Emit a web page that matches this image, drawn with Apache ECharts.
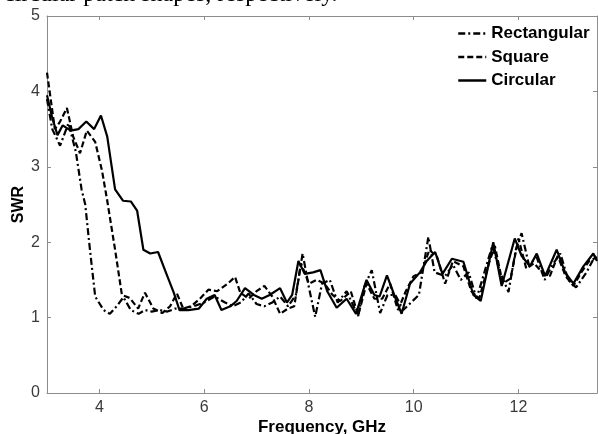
<!DOCTYPE html>
<html>
<head>
<meta charset="utf-8">
<style>
html,body{margin:0;padding:0;background:#fff;}
#chart{width:598px;height:434px;}
</style>
<script src="https://cdn.jsdelivr.net/npm/echarts@6/dist/echarts.min.js"></script>
</head>
<body>
<div id="chart"></div>
<script>
// Tick labels
var xTicks = [4, 6, 8, 10, 12];
var yTicks = [0, 1, 2, 3, 4, 5];

// Series names
var seriesNames = ['Rectangular', 'Square', 'Circular'];

// Rectangular patch: [frequency GHz, SWR]
var rectangular = [[3.0,3.9],[3.1,3.5],[3.25,3.28],[3.41,3.58],[3.55,3.2],[3.66,2.7],[3.73,2.5],[3.82,1.9],[3.92,1.28],[4.08,1.1],[4.2,1.05],[4.33,1.15],[4.46,1.27],[4.6,1.1],[4.75,1.05],[4.87,1.1],[5.0,1.08],[5.15,1.1],[5.3,1.08],[5.45,1.12],[5.6,1.12],[5.8,1.15],[6.0,1.2],[6.2,1.28],[6.4,1.2],[6.55,1.15],[6.7,1.2],[6.85,1.32],[7.0,1.18],[7.15,1.15],[7.3,1.2],[7.45,1.28],[7.6,1.15],[7.75,1.3],[7.88,1.85],[8.0,1.4],[8.12,1.01],[8.25,1.45],[8.4,1.5],[8.55,1.2],[8.72,1.35],[8.94,1.02],[9.05,1.4],[9.2,1.63],[9.36,1.06],[9.5,1.3],[9.65,1.3],[9.8,1.1],[9.95,1.2],[10.1,1.3],[10.28,2.07],[10.4,1.6],[10.6,1.55],[10.75,1.7],[10.9,1.5],[11.05,1.6],[11.2,1.25],[11.35,1.6],[11.5,1.95],[11.65,1.6],[11.81,1.34],[11.95,1.9],[12.06,2.12],[12.2,1.7],[12.35,1.8],[12.5,1.5],[12.65,1.7],[12.8,1.85],[12.95,1.5],[13.1,1.4],[13.3,1.6],[13.45,1.8],[13.5,1.85]];

// Square patch
var square = [[3.0,4.25],[3.15,3.5],[3.25,3.6],[3.38,3.78],[3.5,3.4],[3.63,3.18],[3.76,3.48],[3.92,3.33],[4.05,2.95],[4.15,2.55],[4.3,1.9],[4.43,1.3],[4.58,1.26],[4.74,1.12],[4.87,1.33],[5.03,1.12],[5.2,1.06],[5.35,1.15],[5.48,1.32],[5.6,1.12],[5.75,1.15],[5.92,1.25],[6.08,1.37],[6.25,1.35],[6.45,1.45],[6.59,1.54],[6.69,1.33],[6.85,1.25],[7.0,1.35],[7.15,1.42],[7.3,1.28],[7.45,1.05],[7.6,1.12],[7.72,1.15],[7.85,1.72],[8.0,1.45],[8.15,1.5],[8.3,1.45],[8.45,1.3],[8.6,1.22],[8.8,1.35],[8.94,1.03],[9.1,1.45],[9.25,1.25],[9.4,1.25],[9.55,1.45],[9.7,1.1],[9.85,1.35],[10.0,1.55],[10.15,1.6],[10.3,1.9],[10.45,1.8],[10.6,1.45],[10.75,1.75],[10.95,1.68],[11.1,1.35],[11.25,1.25],[11.45,1.75],[11.55,1.95],[11.7,1.45],[11.85,1.52],[12.0,2.05],[12.15,1.65],[12.3,1.72],[12.45,1.6],[12.6,1.55],[12.75,1.82],[12.9,1.55],[13.05,1.42],[13.2,1.6],[13.35,1.75],[13.5,1.8]];

// Circular patch
var circular = [[3.0,3.95],[3.1,3.65],[3.2,3.42],[3.3,3.55],[3.45,3.48],[3.6,3.5],[3.75,3.6],[3.9,3.5],[4.03,3.68],[4.15,3.4],[4.3,2.7],[4.45,2.55],[4.6,2.54],[4.72,2.42],[4.84,1.9],[4.97,1.85],[5.12,1.87],[5.28,1.58],[5.42,1.33],[5.53,1.1],[5.7,1.1],[5.9,1.12],[6.05,1.25],[6.2,1.3],[6.33,1.1],[6.5,1.15],[6.62,1.22],[6.78,1.39],[6.95,1.3],[7.1,1.25],[7.25,1.3],[7.45,1.39],[7.58,1.2],[7.68,1.3],[7.8,1.75],[7.92,1.58],[8.08,1.6],[8.22,1.63],[8.35,1.35],[8.53,1.13],[8.72,1.25],[8.9,1.05],[9.1,1.5],[9.25,1.3],[9.35,1.28],[9.49,1.56],[9.64,1.28],[9.77,1.05],[9.93,1.45],[10.12,1.6],[10.25,1.75],[10.41,1.87],[10.55,1.58],[10.73,1.78],[10.95,1.74],[11.14,1.3],[11.28,1.22],[11.52,2.0],[11.68,1.42],[11.93,2.05],[12.06,1.82],[12.22,1.68],[12.35,1.85],[12.51,1.55],[12.73,1.9],[12.89,1.6],[13.05,1.45],[13.24,1.68],[13.43,1.85],[13.5,1.75]];

var chart = echarts.init(document.getElementById('chart'), null, {renderer: 'canvas'});
var sans = '"Liberation Sans", Arial, sans-serif';
var axisGray = '#8c8c8c';

function baseX(pos, showLabel) {
  return {
    type: 'value', position: pos, min: 3, max: 13.5, interval: 2,
    axisLine: {show: true, onZero: false, lineStyle: {color: axisGray, width: 1}},
    axisTick: {show: true, inside: true, length: 4, lineStyle: {color: axisGray},
      customValues: xTicks},
    axisLabel: {show: showLabel, color: '#3a3a3a', fontSize: 16, fontFamily: sans, margin: 7,
      customValues: xTicks},
    splitLine: {show: false}
  };
}
function baseY(pos, showLabel) {
  return {
    type: 'value', position: pos, min: 0, max: 5, interval: 1,
    axisLine: {show: true, onZero: false, lineStyle: {color: axisGray, width: 1}},
    axisTick: {show: true, inside: true, length: 4, lineStyle: {color: axisGray}},
    axisLabel: {show: showLabel, color: '#3a3a3a', fontSize: 16, fontFamily: sans, margin: 7},
    splitLine: {show: false}
  };
}

var xMain = baseX('bottom', true);
xMain.name = 'Frequency, GHz';
xMain.nameLocation = 'middle';
xMain.nameGap = 26;
xMain.nameMoveOverlap = false;
xMain.nameTextStyle = {fontSize: 17, fontWeight: 'bold', color: '#000', fontFamily: sans};
var yMain = baseY('left', true);
yMain.name = 'SWR';
yMain.nameLocation = 'middle';
yMain.nameGap = 20;
yMain.nameMoveOverlap = false;
yMain.nameTextStyle = {fontSize: 16, fontWeight: 'bold', color: '#000', fontFamily: sans};

var option = {
  animation: false,
  backgroundColor: '#fff',
  grid: {left: 47, top: 16, right: 1, bottom: 41, containLabel: false, outerBoundsMode: 'none'},
  graphic: [{
    type: 'text', left: 4, top: -17,
    style: {text: 'circular patch shapes, respectively.', font: '24px "Liberation Serif", "Times New Roman", serif', fill: '#000'}
  }],
  legend: {
    orient: 'vertical', left: 452, top: 20,
    itemWidth: 28, itemHeight: 14, itemGap: 6.5,
    itemStyle: {opacity: 0},
    lineStyle: {width: 2.5},
    textStyle: {fontSize: 17, fontWeight: 'bold', color: '#000', fontFamily: sans},
    data: seriesNames
  },
  xAxis: [xMain, baseX('top', false)],
  yAxis: [yMain, baseY('right', false)],
  series: [
    {name: seriesNames[0], type: 'line', data: rectangular, symbol: 'none', smooth: false,
      lineStyle: {color: '#000', width: 2.2, type: [7, 3, 2, 3]}, itemStyle: {color: '#000'}},
    {name: seriesNames[1], type: 'line', data: square, symbol: 'none', smooth: false,
      lineStyle: {color: '#000', width: 2.2, type: [6, 3]}, itemStyle: {color: '#000'}},
    {name: seriesNames[2], type: 'line', data: circular, symbol: 'none', smooth: false,
      lineStyle: {color: '#000', width: 2.2, type: 'solid'}, itemStyle: {color: '#000'}}
  ]
};
chart.setOption(option);
</script>
</body>
</html>
